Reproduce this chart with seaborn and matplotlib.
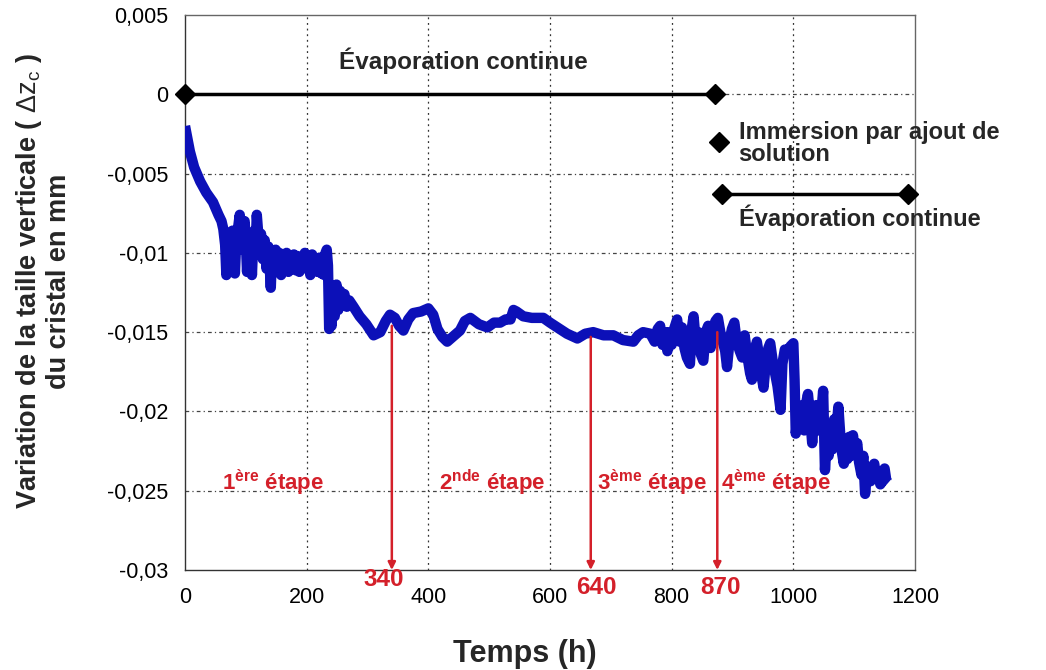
import matplotlib
matplotlib.use("Agg")
import matplotlib.pyplot as plt
import seaborn as sns
import pandas as pd

# ---------------- data ----------------
# initial decay and noisy plateau
hours_a = [0, 3, 8, 15, 25, 35, 46, 55, 60, 63,
           66, 68, 70, 72, 75, 78, 80, 82, 84, 87,
           90, 92, 94, 96, 98, 100, 102, 104, 106, 108,
           110, 112, 114, 116, 118, 120, 122, 125, 128, 131,
           134, 137, 139, 141, 143, 146, 149, 152, 155, 158,
           161, 164, 167, 170, 173, 176, 179, 182, 185, 188,
           191, 194, 197, 200, 203, 206, 209, 212, 215, 218,
           221, 224, 227, 229, 231, 233, 235]
dz_a = [-0.0020, -0.0026, -0.0036, -0.0046, -0.0055, -0.0062, -0.0068, -0.0076, -0.0080, -0.0085,
        -0.0095, -0.0114, -0.0090, -0.0112, -0.0092, -0.0086, -0.0098, -0.0113, -0.0094, -0.0085,
        -0.0076, -0.0088, -0.0098, -0.0084, -0.0080, -0.0092, -0.0112, -0.0094, -0.0104, -0.0090,
        -0.0114, -0.0094, -0.0086, -0.0100, -0.0076, -0.0086, -0.0094, -0.0088, -0.0104, -0.0092,
        -0.0110, -0.0096, -0.0106, -0.0122, -0.0100, -0.0112, -0.0098, -0.0108, -0.0100, -0.0114,
        -0.0102, -0.0110, -0.0100, -0.0112, -0.0103, -0.0110, -0.0101, -0.0111, -0.0102, -0.0112,
        -0.0103, -0.0108, -0.0100, -0.0110, -0.0104, -0.0114, -0.0101, -0.0110, -0.0104, -0.0112,
        -0.0103, -0.0113, -0.0104, -0.0114, -0.0100, -0.0098, -0.0108]
# drop and smooth middle part
hours_b = [237, 239, 241, 243, 246, 249, 252, 255, 258, 262,
           266, 270, 277, 287, 298, 310, 321, 330, 337, 345,
           352, 359, 367, 375, 388, 400, 408, 415, 423, 431,
           440, 452, 460, 469, 483, 497, 508, 518, 527, 535,
           540, 545, 556, 570, 589, 600, 612, 628, 645, 658,
           671, 688, 704, 720, 737, 745, 753, 765]
dz_b = [-0.0148, -0.0128, -0.0146, -0.0124, -0.0140, -0.0120, -0.0136, -0.0124, -0.0132, -0.0126,
        -0.0134, -0.0130, -0.0134, -0.0140, -0.0145, -0.0152, -0.0150, -0.0143, -0.0139, -0.0141,
        -0.0146, -0.0149, -0.0142, -0.0138, -0.0137, -0.0135, -0.0139, -0.0148, -0.0153, -0.0156,
        -0.0153, -0.0149, -0.0143, -0.0141, -0.0145, -0.0147, -0.0144, -0.0144, -0.0142, -0.0142,
        -0.0136, -0.0137, -0.0140, -0.0141, -0.0141, -0.0144, -0.0147, -0.0151, -0.0154, -0.0151,
        -0.0150, -0.0152, -0.0152, -0.0155, -0.0156, -0.0152, -0.0150, -0.0151]
# noisy part before the final drop
hours_c = [772, 777, 781, 785, 789, 793, 796, 800, 804, 809,
           813, 817, 821, 825, 830, 833, 836, 840, 844, 848,
           852, 856, 860, 864, 868, 872, 876, 880, 884, 888,
           891, 895, 899, 903, 907, 912, 916, 920, 924, 929,
           932, 936, 940, 944, 948, 951, 955, 959, 962, 966,
           970, 974, 979, 982, 986, 990, 995, 1000]
dz_c = [-0.0156, -0.0148, -0.0146, -0.0158, -0.0150, -0.0162, -0.0150, -0.0158, -0.0148, -0.0142,
        -0.0156, -0.0147, -0.0160, -0.0166, -0.0170, -0.0148, -0.0140, -0.0158, -0.0150, -0.0164,
        -0.0168, -0.0150, -0.0146, -0.0160, -0.0148, -0.0143, -0.0141, -0.0150, -0.0156, -0.0162,
        -0.0172, -0.0156, -0.0148, -0.0144, -0.0156, -0.0162, -0.0166, -0.0152, -0.0164, -0.0176,
        -0.0180, -0.0164, -0.0156, -0.0166, -0.0178, -0.0185, -0.0168, -0.0160, -0.0157, -0.0168,
        -0.0176, -0.0184, -0.0199, -0.0170, -0.0161, -0.0163, -0.0159, -0.0157]
# final drop
hours_d = [1002, 1004, 1008, 1012, 1015, 1018, 1021, 1024, 1028, 1031,
           1034, 1038, 1041, 1045, 1049, 1052, 1055, 1058, 1061, 1064,
           1067, 1070, 1074, 1077, 1080, 1083, 1086, 1089, 1092, 1095,
           1098, 1101, 1105, 1108, 1112, 1115, 1118, 1121, 1124, 1127,
           1130, 1133, 1136, 1139, 1143, 1146, 1150, 1153, 1156]
dz_d = [-0.0180, -0.0214, -0.0200, -0.0210, -0.0196, -0.0212, -0.0195, -0.0189, -0.0205, -0.0220,
        -0.0204, -0.0196, -0.0212, -0.0206, -0.0187, -0.0237, -0.0218, -0.0228, -0.0212, -0.0224,
        -0.0205, -0.0216, -0.0197, -0.0214, -0.0226, -0.0233, -0.0218, -0.0230, -0.0216, -0.0228,
        -0.0215, -0.0226, -0.0220, -0.0232, -0.0240, -0.0228, -0.0252, -0.0238, -0.0235, -0.0244,
        -0.0236, -0.0233, -0.0242, -0.0238, -0.0246, -0.0240, -0.0236, -0.0244, -0.0245]

hours = hours_a + hours_b + hours_c + hours_d
dz = dz_a + dz_b + dz_c + dz_d

# stage boundaries: labels and the positions of the arrows
stage_labels = ["340", "640", "870"]
arrow_x = [340, 667, 875]
arrow_top = [-0.0146, -0.0153, -0.0150]
stage_label_x = [326, 676, 880]
stage_label_y = [-0.0306, -0.0311, -0.0311]
stage_names = [r"1$^{\mathbf{ère}}$ étape", r"2$^{\mathbf{nde}}$ étape",
               r"3$^{\mathbf{ème}}$ étape", r"4$^{\mathbf{ème}}$ étape"]
stage_name_x = [145, 505, 767, 972]

# protocol annotations
evap1_x = [0, 872]
evap1_y = [0.0, 0.0]
immersion_x = [878]
immersion_y = [-0.0030]
evap2_x = [883, 1188]
evap2_y = [-0.0063, -0.0063]

xticks = [0, 200, 400, 600, 800, 1000, 1200]
yticks = [0.005, 0.0, -0.005, -0.01, -0.015, -0.02, -0.025, -0.03]
ytick_labels = ["0,005", "0", "-0,005", "-0,01", "-0,015", "-0,02", "-0,025", "-0,03"]

# ---------------- style ----------------
sns.set_style("white")
plt.rcParams["font.family"] = ["Liberation Sans", "DejaVu Sans"]
plt.rcParams["mathtext.fontset"] = "custom"
plt.rcParams["mathtext.rm"] = "Liberation Sans"
plt.rcParams["mathtext.it"] = "Liberation Sans:italic"
plt.rcParams["mathtext.bf"] = "Liberation Sans:bold"

fig = plt.figure(figsize=(10.46, 6.70), dpi=100)
ax = fig.add_axes([185 / 1046, 100 / 670, 730 / 1046, 555 / 670])

df = pd.DataFrame({"Temps": hours, "dz": dz})
sns.lineplot(data=df, x="Temps", y="dz", ax=ax, estimator=None, sort=False,
             color="#0c10b8", linewidth=7.5, solid_joinstyle="round",
             solid_capstyle="butt", zorder=3)

ax.set_xlim(0, 1200)
ax.set_ylim(-0.03, 0.005)
ax.set_xticks(xticks)
ax.set_yticks(yticks)
ax.set_yticklabels(ytick_labels)

# grid
for x in xticks[1:-1]:
    ax.axvline(x, color="#333333", lw=0.9, ls=(0, (1.5, 3)), zorder=1)
for y in yticks[1:-1]:
    ax.axhline(y, color="#444444", lw=0.9, ls=(0, (3, 2.5, 1, 2.5)), zorder=1)

for s in ax.spines.values():
    s.set_color("#666666")
    s.set_linewidth(1.0)
ax.spines["left"].set_color("#333333")
ax.spines["bottom"].set_color("#333333")
ax.tick_params(direction="in", length=6, width=1, colors="#333333", labelcolor="black",
               labelsize=15.5)
ax.tick_params(axis="y", pad=12)
ax.tick_params(axis="x", pad=12)

# protocol annotations
ax.plot(evap1_x, evap1_y, color="black", lw=2.5, marker="D", ms=10, clip_on=False, zorder=5)
ax.text(457, 0.0021, "Évaporation continue", ha="center", va="center",
        fontsize=17.5, fontweight="bold")
ax.plot(immersion_x, immersion_y, color="black", ls="none", marker="D", ms=10,
        clip_on=False, zorder=5)
ax.text(910, -0.0031, "Immersion par ajout de\nsolution", ha="left", va="center",
        fontsize=17, fontweight="bold", linespacing=0.95)
ax.plot(evap2_x, evap2_y, color="black", lw=2.5, marker="D", ms=10, clip_on=False, zorder=5)
ax.text(910, -0.0078, "Évaporation continue", ha="left", va="center",
        fontsize=17, fontweight="bold")

# stage arrows
red = "#d4202a"
for h, top in zip(arrow_x, arrow_top):
    ax.annotate("", xy=(h, -0.03), xytext=(h, top),
                arrowprops=dict(arrowstyle="-|>", color=red, lw=1.8,
                                mutation_scale=11, shrinkA=0, shrinkB=0), zorder=4)
for lab, x, y in zip(stage_labels, stage_label_x, stage_label_y):
    ax.text(x, y, lab, color=red, ha="center", va="center", fontsize=17.5,
            fontweight="bold")

for name, x in zip(stage_names, stage_name_x):
    ax.text(x, -0.0245, name, color=red, ha="center", va="center", fontsize=16,
            fontweight="bold")

ax.set_xlabel("Temps (h)", fontsize=22, fontweight="bold")
ax.xaxis.set_label_coords((525 - 185) / 730, -0.125)
ax.set_ylabel("Variation de la taille verticale ( $\\mathrm{\\Delta z_c}$ )\ndu cristal en mm",
              fontsize=19.5, fontweight="bold", linespacing=1.1)
ax.yaxis.set_label_coords(-0.155, 0.52)

fig.savefig("out.png", dpi=100)
